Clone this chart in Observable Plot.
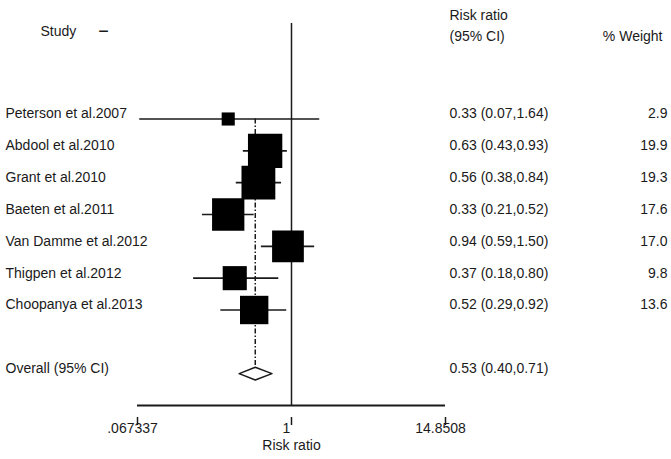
<!DOCTYPE html>
<html><head><meta charset="utf-8">
<script src="https://cdn.jsdelivr.net/npm/d3@7"></script>
<script src="https://cdn.jsdelivr.net/npm/@observablehq/plot@0.6"></script>
<style>body{margin:0;background:#fff;} svg{display:block;}</style>
</head><body><div id="chart"></div>
<script>
const studies = ["Peterson et al.2007", "Abdool et al.2010", "Grant et al.2010", "Baeten et al.2011", "Van Damme et al.2012", "Thigpen et al.2012", "Choopanya et al.2013"];
const riskRatio = [0.33, 0.63, 0.56, 0.33, 0.94, 0.37, 0.52];
const ciLow = [0.07, 0.43, 0.38, 0.21, 0.59, 0.18, 0.29];
const ciHigh = [1.64, 0.93, 0.84, 0.52, 1.50, 0.80, 0.92];
const weights = [2.9, 19.9, 19.3, 17.6, 17.0, 9.8, 13.6];
const overallLabel = "Overall (95% CI)";
const overallRR = 0.53, overallLow = 0.40, overallHigh = 0.71;
const xTicks = [0.067337, 1, 14.8508];
const xTickLabels = [".067337", "1", "14.8508"];

const f2 = d => d.toFixed(2);
const rows = studies.map((s, i) => ({
  label: s, row: i + 1, rr: riskRatio[i], lo: ciLow[i], hi: ciHigh[i], w: weights[i],
  ci: `${f2(riskRatio[i])} (${f2(ciLow[i])},${f2(ciHigh[i])})`, wt: weights[i].toFixed(1)
}));
const overallRow = studies.length + 2;
const overall = {label: overallLabel, row: overallRow, rr: overallRR, lo: overallLow, hi: overallHigh,
  ci: `${f2(overallRR)} (${f2(overallLow)},${f2(overallHigh)})`};
const allRows = [...rows, overall];
const dh = 0.2;
const diamond = [
  {x: overall.lo, y: overallRow}, {x: overall.rr, y: overallRow - dh},
  {x: overall.hi, y: overallRow}, {x: overall.rr, y: overallRow + dh},
  {x: overall.lo, y: overallRow}
];
const tickData = xTicks.map((v, i) => ({v, label: xTickLabels[i]}));
const ink = "#1a1a1a";

const chart = Plot.plot({
  width: 671, height: 459,
  marginLeft: 137, marginRight: 226, marginTop: 23, marginBottom: 54,
  style: {fontFamily: "'Liberation Sans', Arial, sans-serif", fontSize: "14px", color: ink, background: "#fff"},
  x: {type: "log", domain: [xTicks[0], xTicks[2]], axis: null},
  y: {domain: [-2, 10], reverse: true, axis: null},
  r: {type: "sqrt", domain: [0, 20], range: [0, 4.344 * Math.sqrt(20)]},
  marks: [
    Plot.ruleX([1], {stroke: ink, strokeWidth: 1.5}),
    Plot.ruleY([10], {stroke: ink, strokeWidth: 2}),
    Plot.ruleX([overall.rr], {y1: 1, y2: overallRow - dh, stroke: ink, strokeWidth: 1.5, strokeDasharray: "5,2,1.5,2"}),
    Plot.ruleY(rows, {y: "row", x1: "lo", x2: "hi", stroke: ink, strokeWidth: 1.6}),
    Plot.dot(rows, {x: "rr", y: "row", r: "w", symbol: "square", fill: "#000"}),
    Plot.line(diamond, {x: "x", y: "y", stroke: ink, strokeWidth: 1.5, fill: "#fff"}),
    Plot.axisX(xTicks, {tickSize: 8, dy: 12, tickFormat: () => "", label: null, stroke: ink, strokeWidth: 1.5}),
    Plot.text(tickData, {x: "v", text: "label", frameAnchor: "bottom", dy: 27, dx: -5, fill: ink}),
    Plot.text(["Risk ratio"], {text: d => d, frameAnchor: "bottom", dy: 44, fill: ink}),
    Plot.text(allRows, {y: "row", text: "label", frameAnchor: "left", textAnchor: "start", dx: -132, dy: -5, fill: ink}),
    Plot.text(allRows, {y: "row", text: "ci", frameAnchor: "right", textAnchor: "start", dx: 4, dy: -5, fill: ink}),
    Plot.text(rows, {y: "row", text: "wt", frameAnchor: "right", textAnchor: "end", dx: 222, dy: -5, fill: ink}),
    Plot.text(["Study"], {text: d => d, frameAnchor: "top-left", textAnchor: "start", dx: -97, dy: 3, fill: ink}),
    Plot.text(["\u2212"], {text: d => d, frameAnchor: "top-left", textAnchor: "middle", dx: -34, dy: 1, fill: ink, fontSize: 18}),
    Plot.text(["Risk ratio"], {text: d => d, frameAnchor: "top-right", textAnchor: "start", dx: 4, dy: -13, fill: ink}),
    Plot.text(["(95% CI)"], {text: d => d, frameAnchor: "top-right", textAnchor: "start", dx: 4, dy: 8, fill: ink}),
    Plot.text(["% Weight"], {text: d => d, frameAnchor: "top-right", textAnchor: "end", dx: 217, dy: 8, fill: ink})
  ]
});
document.getElementById("chart").appendChild(chart);
</script>
</body></html>
